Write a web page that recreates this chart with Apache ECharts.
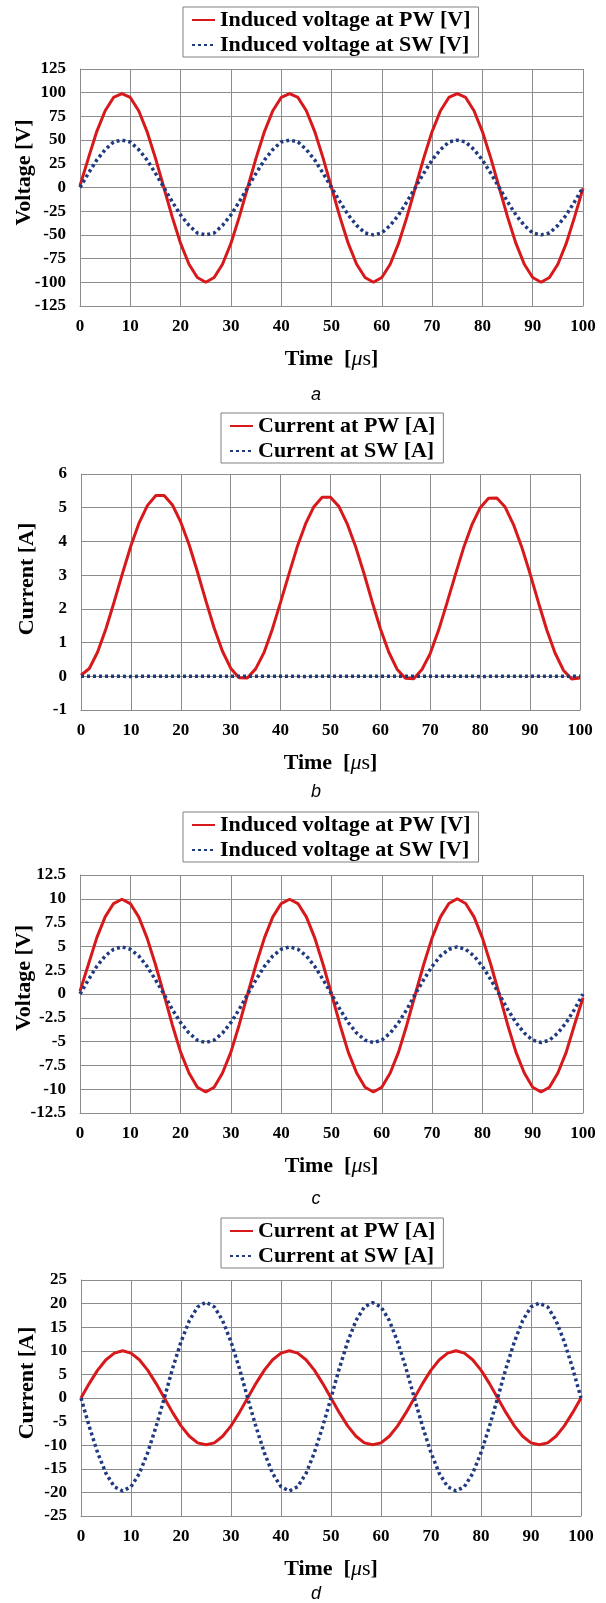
<!DOCTYPE html>
<html>
<head>
<meta charset="utf-8">
<script src="https://cdn.jsdelivr.net/npm/echarts@6/dist/echarts.min.js"></script>
<style>
html,body{margin:0;padding:0;background:#fff;}
#chart{width:606px;height:1603px;}
</style>
</head>
<body>
<div id="chart"></div>
<script>
// Time axis [µs]
const time = [0,1.67,3.33,5,6.67,8.33,10,11.67,13.33,15,16.67,18.33,20,21.67,23.33,25,26.67,28.33,30,31.67,
  33.33,35,36.67,38.33,40,41.67,43.33,45,46.67,48.33,50,51.67,53.33,55,56.67,58.33,60,61.67,63.33,65,
  66.67,68.33,70,71.67,73.33,75,76.67,78.33,80,81.67,83.33,85,86.67,88.33,90,91.67,93.33,95,96.67,98.33,100];

// (a) Induced voltage [V]
const aPW = [2,31,59,81,95,99,95,81,59,31,0,-31,-59,-81,-95,-100,-95,-81,-59,-31,
  0,31,59,81,95,99,95,81,59,31,0,-31,-59,-81,-95,-100,-95,-81,-59,-31,
  0,31,59,81,95,99,95,81,59,31,0,-31,-59,-81,-95,-100,-95,-81,-59,-31,-1];
const aSW = [0,15,29,40,48,50,48,40,29,15,0,-15,-29,-40,-48,-50,-48,-40,-29,-15,
  0,15,29,40,48,50,48,40,29,15,0,-15,-29,-40,-48,-50,-48,-40,-29,-15,
  0,15,29,40,48,50,48,40,29,15,0,-15,-29,-40,-48,-50,-48,-40,-29,-15,0];

// (b) Current [A]
const bPW = [0.03,0.23,0.72,1.41,2.22,3.06,3.87,4.56,5.07,5.36,5.36,5.08,4.57,3.9,3.1,2.25,1.44,0.75,0.24,-0.04,
  -0.05,0.22,0.7,1.39,2.2,3.03,3.84,4.52,5.03,5.31,5.31,5.04,4.53,3.86,3.07,2.22,1.41,0.72,0.21,-0.06,
  -0.07,0.2,0.68,1.37,2.17,3.0,3.81,4.49,5.0,5.28,5.29,5.02,4.5,3.83,3.04,2.19,1.38,0.69,0.18,-0.08,-0.05];
const bSW = [0,0,0,0,0,0,-0.01,0,0,0,0,0,0,0,0,0,0,0,0,0,
  0,0,0,0,0,0,0,-0.01,0,0,0,0,0,0,0,0,0,0,0,0,
  0,0,0,0,0,0,0,0,-0.01,0,0,0,0,0,0,0,0,0,0,0,0];

// (c) Induced voltage [V]
const cPW = [0.3,3.1,5.9,8.1,9.5,9.95,9.5,8.1,5.9,3.1,0,-3.2,-6.1,-8.3,-9.8,-10.3,-9.8,-8.3,-6.1,-3.2,
  0,3.1,5.9,8.1,9.5,9.95,9.5,8.1,5.9,3.1,0,-3.2,-6.1,-8.3,-9.8,-10.3,-9.8,-8.3,-6.1,-3.2,
  0,3.1,5.9,8.1,9.5,10,9.5,8.1,5.9,3.1,0,-3.2,-6.1,-8.3,-9.8,-10.3,-9.8,-8.3,-6.1,-3.2,-0.4];
const cSW = [0,1.5,2.9,4.0,4.7,4.95,4.7,4.0,2.9,1.5,0,-1.6,-3.0,-4.1,-4.85,-5.1,-4.85,-4.1,-3.0,-1.6,
  0,1.5,2.9,4.0,4.7,4.95,4.7,4.0,2.9,1.5,0,-1.6,-3.0,-4.1,-4.85,-5.1,-4.85,-4.1,-3.0,-1.6,
  0,1.5,2.9,4.0,4.7,4.95,4.7,4.0,2.9,1.5,0,-1.6,-3.0,-4.1,-4.85,-5.1,-4.85,-4.1,-3.0,-1.6,0];

// (d) Current [A]
const dPW = [0,3.1,5.9,8.1,9.5,10,9.5,8.1,5.9,3.1,0,-3.1,-5.9,-8.1,-9.5,-9.9,-9.5,-8.1,-5.9,-3.1,
  0,3.1,5.9,8.1,9.5,10,9.5,8.1,5.9,3.1,0,-3.1,-5.9,-8.1,-9.5,-9.9,-9.5,-8.1,-5.9,-3.1,
  0,3.1,5.9,8.1,9.5,10,9.5,8.1,5.9,3.1,0,-3.1,-5.9,-8.1,-9.5,-9.9,-9.5,-8.1,-5.9,-3.1,0];
const dSW = [0,-6.1,-11.6,-16,-18.8,-19.7,-18.8,-16,-11.6,-6.1,0,6.3,11.9,16.4,19.3,20.3,19.3,16.4,11.9,6.3,
  0,-6.1,-11.6,-16,-18.8,-19.7,-18.8,-16,-11.6,-6.1,0,6.3,11.9,16.4,19.3,20.2,19.3,16.4,11.9,6.3,
  0,-6.1,-11.6,-16,-18.8,-19.7,-18.8,-16,-11.6,-6.1,0,6.3,11.9,16.4,19.3,20.1,19.3,16.4,11.9,6.3,0];

// Axis ranges [min, max, interval]
const xRange = [0, 100, 10];
const yRanges = [[-125, 125, 25], [-1, 6, 1], [-12.5, 12.5, 2.5], [-25, 25, 5]];
const yTitles = ['Voltage [V]', 'Current [A]', 'Voltage [V]', 'Current [A]'];
const panelLetters = ['a', 'b', 'c', 'd'];
const seriesNames = [
  ['Induced voltage at PW [V]', 'Induced voltage at SW [V]'],
  ['Current at PW [A]', 'Current at SW [A]'],
  ['Induced voltage at PW [V]', 'Induced voltage at SW [V]'],
  ['Current at PW [A]', 'Current at SW [A]']
];
const seriesData = [[aPW, aSW], [bPW, bSW], [cPW, cSW], [dPW, dSW]];

// ---- layout ----
const SERIF = '"Liberation Serif", "Times New Roman", serif';
const RED = '#D7191C';
const BLUE = '#1F3A80';
const GRID_COLOR = '#8c8c8c';
const grids = [
  {left: 80, top: 69, width: 503, height: 237},
  {left: 81, top: 474, width: 499, height: 236},
  {left: 80, top: 875, width: 503, height: 238},
  {left: 81, top: 1280, width: 500, height: 236}
];
const legendPos = [
  {left: 183, top: 7}, {left: 221, top: 413}, {left: 183, top: 812}, {left: 221, top: 1218}
];
const yNameGap = [45, 43, 45, 43];
const yNameShift = [30, 26, 32, 30];
const letterY = [395, 792, 1199, 1594];

const option = {
  animation: false,
  backgroundColor: '#fff',
  grid: grids.map(g => Object.assign({containLabel: false}, g)),
  legend: legendPos.map((p, i) => ({
    left: p.left, top: p.top, orient: 'vertical',
    data: seriesNames[i],
    borderColor: '#808080', borderWidth: 1,
    padding: [1, 8, 0, 8], itemGap: 1,
    itemWidth: 23, itemHeight: 12,
    selectedMode: false,
    itemStyle: {opacity: 0},
    textStyle: {fontFamily: SERIF, fontWeight: 'bold', fontSize: 22, color: '#000', lineHeight: 24}
  })),
  xAxis: grids.map((g, i) => ({
    type: 'value', gridIndex: i,
    min: xRange[0], max: xRange[1], interval: xRange[2],
    name: '{b|Time  [}{i|μ}{r|s}{b|]}',
    nameLocation: 'middle', nameGap: 42, nameMoveOverlap: false,
    nameTextStyle: {
      rich: {
        b: {fontFamily: SERIF, fontWeight: 'bold', fontSize: 22, color: '#000'},
        i: {fontFamily: SERIF, fontStyle: 'italic', fontSize: 22, color: '#000'},
        r: {fontFamily: SERIF, fontSize: 22, color: '#000'}
      }
    },
    axisLine: {show: true, onZero: false, lineStyle: {color: GRID_COLOR, width: 1}},
    axisTick: {show: false},
    axisLabel: {margin: 12, fontFamily: SERIF, fontWeight: 'bold', fontSize: 17, color: '#000'},
    splitLine: {show: true, lineStyle: {color: GRID_COLOR, width: 1}}
  })),
  yAxis: grids.map((g, i) => ({
    type: 'value', gridIndex: i,
    min: yRanges[i][0], max: yRanges[i][1], interval: yRanges[i][2],
    name: yTitles[i], nameLocation: 'middle', nameGap: yNameGap[i], nameMoveOverlap: false,
    nameTextStyle: {fontFamily: SERIF, fontWeight: 'bold', fontSize: 22, color: '#000',
      padding: [0, 0, 0, yNameShift[i]]},
    axisLine: {show: true, onZero: false, lineStyle: {color: GRID_COLOR, width: 1}},
    axisTick: {show: false},
    axisLabel: {margin: 14, fontFamily: SERIF, fontWeight: 'bold', fontSize: 17, color: '#000'},
    splitLine: {show: true, lineStyle: {color: GRID_COLOR, width: 1}}
  })),
  series: [],
  graphic: panelLetters.map((l, i) => ({
    type: 'text', x: 316, y: letterY[i], silent: true,
    style: {text: l, font: 'italic 18px "Liberation Sans", Arial, sans-serif',
      fill: '#000', align: 'center', verticalAlign: 'middle',
      textAlign: 'center', textVerticalAlign: 'middle'}
  }))
};

seriesData.forEach((pair, i) => {
  option.series.push({
    name: seriesNames[i][0], type: 'line', xAxisIndex: i, yAxisIndex: i,
    data: time.map((t, k) => [t, pair[0][k]]),
    symbol: 'none', smooth: false, z: 3,
    lineStyle: {color: RED, width: 3, type: 'solid'},
    itemStyle: {color: RED}
  });
  option.series.push({
    name: seriesNames[i][1], type: 'line', xAxisIndex: i, yAxisIndex: i,
    data: time.map((t, k) => [t, pair[1][k]]),
    symbol: 'none', smooth: false, z: 4,
    lineStyle: {color: BLUE, width: 3.5, type: [3, 3], cap: 'butt'},
    itemStyle: {color: BLUE}
  });
});

const chart = echarts.init(document.getElementById('chart'), null, {renderer: 'canvas', width: 606, height: 1603});
chart.setOption(option);
</script>
</body>
</html>
